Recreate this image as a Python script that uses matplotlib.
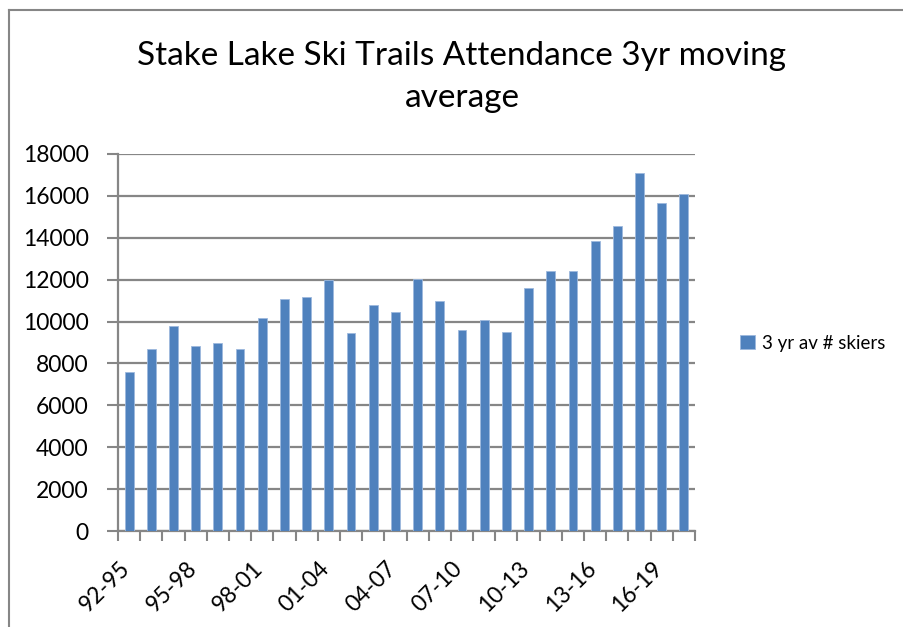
import matplotlib
matplotlib.use("Agg")
import matplotlib.pyplot as plt
from matplotlib.lines import Line2D
import matplotlib.transforms as mtransforms
import numpy as np

plt.rcParams['font.family'] = ['Lato', 'DejaVu Sans']

categories = ["92-95", "93-96", "94-97", "95-98", "96-99", "97-00", "98-01", "99-02",
              "00-03", "01-04", "02-05", "03-06", "04-07", "05-08", "06-09", "07-10",
              "08-11", "09-12", "10-13", "11-14", "12-15", "13-16", "14-17", "15-18",
              "16-19", "17-20"]
skiers = [7600, 8690, 9800, 8850, 8980, 8690, 10180, 11070, 11170, 12000,
          9430, 10810, 10480, 12050, 10980, 9600, 10080, 9500, 11610, 12400,
          12400, 13830, 14560, 17100, 15650, 16080]
series_name = "3 yr av # skiers"
title = "Stake Lake Ski Trails Attendance 3yr moving\naverage"
yticks = [0, 2000, 4000, 6000, 8000, 10000, 12000, 14000, 16000, 18000]

W, H = 904, 627
fig = plt.figure(figsize=(W / 100, H / 100), dpi=100)
ax = fig.add_axes([118 / W, 1 - 531 / H, (695 - 118) / W, (531 - 154) / H])

grey = "#868686"
x = np.arange(len(categories))
ax.bar(x, skiers, width=0.4, color="#4F81BD", edgecolor="#9DB9DE", linewidth=0.6,
       label=series_name, zorder=3)

ax.set_xlim(-0.5, len(categories) - 0.5)
ax.set_ylim(0, 18000)
ax.set_yticks(yticks)
ax.set_yticklabels([str(v) for v in yticks], fontsize=16.5)
ax.yaxis.grid(True, color=grey, linewidth=1.6, zorder=0)
ax.set_axisbelow(True)

ax.set_xticks(x[::3])
ax.set_xticklabels(categories[::3], rotation=45, ha="right", rotation_mode="anchor",
                   fontsize=16.5)
ax.set_xticks(np.arange(len(categories) + 1) - 0.5, minor=True)
ax.tick_params(axis="x", which="major", length=0, pad=19)
ax.tick_params(axis="x", which="minor", length=7, width=1.5, color=grey)
ax.tick_params(axis="y", which="major", length=8, width=1.5, color=grey, pad=13)

offset = mtransforms.ScaledTranslation(-10 / 100, 0, fig.dpi_scale_trans)
for lbl in ax.get_xticklabels():
    lbl.set_transform(lbl.get_transform() + offset)

for s in ["top", "right"]:
    ax.spines[s].set_visible(False)
for s in ["left", "bottom"]:
    ax.spines[s].set_color(grey)
    ax.spines[s].set_linewidth(1.6)

fig.text(462 / W, 1 - 77 / H, title, ha="center", va="center", fontsize=24,
         linespacing=1.5)

leg = fig.legend(loc="center left", bbox_to_anchor=(733 / W, 1 - 343 / H),
                 frameon=False, fontsize=13.5, handlelength=0.75, handleheight=0.75,
                 handletextpad=0.4, borderaxespad=0)

# chart area border (top and left visible)
fig.add_artist(Line2D([8.5 / W, 8.5 / W], [0, 1 - 9.5 / H], transform=fig.transFigure,
                      color=grey, linewidth=1.5))
fig.add_artist(Line2D([8.5 / W, 1], [1 - 9.5 / H, 1 - 9.5 / H], transform=fig.transFigure,
                      color=grey, linewidth=1.5))

fig.savefig("out.png", dpi=100)
